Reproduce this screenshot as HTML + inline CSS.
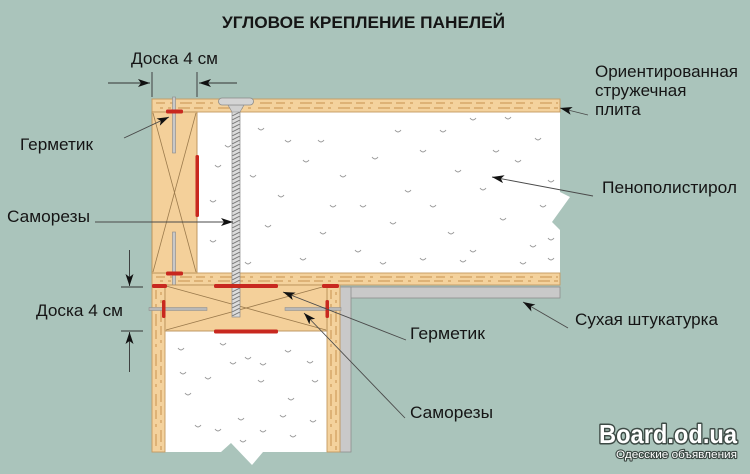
<!DOCTYPE html>
<html><head><meta charset="utf-8"><style>
html,body{margin:0;padding:0;background:#aac4bb;}
svg{display:block;}
text{font-family:"Liberation Sans","DejaVu Sans",sans-serif;fill:#151515;}
</style></head><body>
<svg width="750" height="474" viewBox="0 0 750 474" xmlns="http://www.w3.org/2000/svg">
<defs>
<marker id="ah" markerWidth="13" markerHeight="8" refX="12" refY="4" orient="auto" markerUnits="userSpaceOnUse">
<path d="M0,0 L12,4 L0,8 L3,4 z" fill="#111"/>
</marker>
<pattern id="thr" width="8" height="4" patternUnits="userSpaceOnUse">
<path d="M-1,4.5 L9,-0.5" stroke="#7a7a7a" stroke-width="1"/>
</pattern>
</defs>
<rect width="750" height="474" fill="#aac4bb"/>

<!-- title -->
<text x="222" y="28" font-size="17" font-weight="bold" textLength="283" lengthAdjust="spacingAndGlyphs">УГЛОВОЕ КРЕПЛЕНИЕ ПАНЕЛЕЙ</text>

<!-- drywall -->
<rect x="340" y="287" width="220" height="11" fill="#c9c9c9" stroke="#8e8e8e" stroke-width="0.8"/>
<rect x="340" y="287" width="11" height="165" fill="#c9c9c9" stroke="#8e8e8e" stroke-width="0.8"/>

<!-- top foam -->
<path d="M197,112 L560,112 L560,192 L570,197 L552,222 L560,230 L560,273 L197,273 Z" fill="#ffffff"/>
<!-- bottom foam -->
<path d="M165,331 L327,331 L327,452 L263,452 L252,465 L231,443 L221,452 L165,452 Z" fill="#ffffff"/>

<!-- foam dots -->
<g fill="none" stroke="#9a9a9a" stroke-width="0.9">
<path d="M258,128 q3,4 6,0 M318,140 q3,4 6,0 M395,130 q3,4 6,0 M470,118 q3,4 6,0 M505,117 q3,4 6,0 M372,157 q3,4 6,0 M303,160 q3,4 6,0 M420,150 q3,4 6,0 M493,150 q3,4 6,0 M535,138 q3,4 6,0 M215,165 q3,4 6,0 M250,175 q3,4 6,0 M340,175 q3,4 6,0 M405,190 q3,4 6,0 M455,170 q3,4 6,0 M515,160 q3,4 6,0 M548,180 q3,4 6,0 M210,200 q3,4 6,0 M278,195 q3,4 6,0 M360,205 q3,4 6,0 M430,205 q3,4 6,0 M480,188 q3,4 6,0 M540,205 q3,4 6,0 M210,240 q3,4 6,0 M265,225 q3,4 6,0 M320,232 q3,4 6,0 M390,222 q3,4 6,0 M448,232 q3,4 6,0 M500,218 q3,4 6,0 M548,238 q3,4 6,0 M245,262 q3,4 6,0 M300,258 q3,4 6,0 M355,250 q3,4 6,0 M420,258 q3,4 6,0 M470,250 q3,4 6,0 M520,262 q3,4 6,0 M548,258 q3,4 6,0 M285,140 q3,4 6,0 M440,130 q3,4 6,0 M225,145 q3,4 6,0 M330,205 q3,4 6,0 M460,260 q3,4 6,0 M380,262 q3,4 6,0 M530,245 q3,4 6,0"/>
<path d="M178,348 q3,4 6,0 M220,343 q3,4 6,0 M245,357 q3,4 6,0 M260,363 q3,4 6,0 M180,372 q3,4 6,0 M205,377 q3,4 6,0 M258,380 q3,4 6,0 M230,362 q3,4 6,0 M185,393 q3,4 6,0 M285,350 q3,4 6,0 M307,361 q3,4 6,0 M312,380 q3,4 6,0 M288,398 q3,4 6,0 M280,415 q3,4 6,0 M238,418 q3,4 6,0 M195,425 q3,4 6,0 M215,429 q3,4 6,0 M260,430 q3,4 6,0 M290,435 q3,4 6,0 M240,440 q3,4 6,0 M310,420 q3,4 6,0"/>
</g>

<!-- top OSB -->
<rect x="152" y="99" width="408" height="13" fill="#f4d29d" stroke="#c49a60" stroke-width="0.9"/>
<g stroke="#c7924f" stroke-width="1" stroke-dasharray="9 5 3 7 12 4">
<line x1="156" y1="103" x2="558" y2="103"/>
<line x1="160" y1="108" x2="558" y2="108" stroke-dashoffset="6"/>
</g>
<!-- bottom OSB of top panel -->
<rect x="152" y="273" width="408" height="12" fill="#f4d29d" stroke="#c49a60" stroke-width="0.9"/>
<g stroke="#c7924f" stroke-width="1" stroke-dasharray="9 5 3 7 12 4">
<line x1="156" y1="277" x2="558" y2="277"/>
<line x1="160" y1="281" x2="558" y2="281" stroke-dashoffset="6"/>
</g>

<!-- left vertical board -->
<rect x="152" y="112" width="45" height="161" fill="#f4d09a" stroke="#b98f57" stroke-width="0.9"/>
<g stroke="#9b7a4c" stroke-width="0.8">
<line x1="153" y1="113" x2="196" y2="272"/>
<line x1="196" y1="113" x2="153" y2="272"/>
</g>
<!-- nails in left board -->
<rect x="172.5" y="97" width="3" height="56" fill="#c8c8c8" stroke="#888" stroke-width="0.6"/>
<rect x="172.5" y="232" width="3" height="54" fill="#c8c8c8" stroke="#888" stroke-width="0.6"/>

<!-- horizontal board + vertical OSBs of lower panel -->
<rect x="152" y="285" width="13" height="167" fill="#f4d29d" stroke="#c49a60" stroke-width="0.9"/>
<rect x="327" y="285" width="13" height="167" fill="#f4d29d" stroke="#c49a60" stroke-width="0.9"/>
<g stroke="#c7924f" stroke-width="1" stroke-dasharray="9 5 3 7 12 4">
<line x1="156" y1="290" x2="156" y2="450"/>
<line x1="161" y1="292" x2="161" y2="450" stroke-dashoffset="6"/>
<line x1="331" y1="290" x2="331" y2="450"/>
<line x1="336" y1="292" x2="336" y2="450" stroke-dashoffset="6"/>
</g>
<rect x="165" y="285" width="162" height="46" fill="#f4d09a" stroke="#b98f57" stroke-width="0.9"/>
<g stroke="#9b7a4c" stroke-width="0.8">
<line x1="166" y1="330" x2="326" y2="286"/>
<line x1="166" y1="286" x2="326" y2="330"/>
</g>

<!-- horizontal nails -->
<rect x="149" y="307.5" width="58" height="3" fill="#b8b8b8" stroke="#888" stroke-width="0.5"/>
<rect x="285" y="307.5" width="56" height="3" fill="#b8b8b8" stroke="#888" stroke-width="0.5"/>

<!-- big screw -->
<rect x="232" y="104" width="8" height="213" fill="#dcdcdc" stroke="#888" stroke-width="0.7"/>
<rect x="232" y="108" width="8" height="208" fill="url(#thr)"/>
<path d="M228,105 L244,105 L240,112 L232,112 Z" fill="#d0d0d0" stroke="#8a8a8a" stroke-width="0.6"/>
<rect x="218.5" y="98" width="35" height="7" rx="3.5" fill="#d4d4d4" stroke="#8a8a8a" stroke-width="0.8"/>

<!-- red sealant -->
<g fill="#c8281f">
<rect x="166" y="109.5" width="17" height="4" rx="1.5"/>
<rect x="195.5" y="155" width="3.5" height="62" rx="1.5"/>
<rect x="166" y="271.5" width="17" height="4" rx="1.5"/>
<rect x="152" y="284" width="15" height="4" rx="1.5"/>
<rect x="214" y="284" width="64" height="4" rx="1.5"/>
<rect x="322" y="284" width="17" height="4" rx="1.5"/>
<rect x="214" y="329.5" width="64" height="4" rx="1.5"/>
<rect x="162" y="300" width="3.5" height="18" rx="1.5"/>
<rect x="325.5" y="300" width="3.5" height="18" rx="1.5"/>
</g>

<!-- dimension top -->
<g stroke="#333" stroke-width="0.9" fill="none">
<line x1="152" y1="72" x2="152" y2="97"/>
<line x1="197" y1="72" x2="197" y2="97"/>
<line x1="108" y1="83" x2="150" y2="83" marker-end="url(#ah)"/>
<line x1="237" y1="83" x2="199" y2="83" marker-end="url(#ah)"/>
<!-- dimension left -->
<line x1="121" y1="287" x2="143" y2="287"/>
<line x1="121" y1="331" x2="143" y2="331"/>
<line x1="129.5" y1="250" x2="129.5" y2="286" marker-end="url(#ah)"/>
<line x1="129.5" y1="372" x2="129.5" y2="332" marker-end="url(#ah)"/>
</g>

<!-- leader lines -->
<g stroke="#4a4a4a" stroke-width="0.9" fill="none">
<line x1="124" y1="138" x2="169" y2="117" marker-end="url(#ah)"/>
<line x1="95" y1="222" x2="233" y2="222" marker-end="url(#ah)"/>
<line x1="588" y1="115" x2="560" y2="108" marker-end="url(#ah)"/>
<line x1="593" y1="196" x2="492" y2="177" marker-end="url(#ah)"/>
<line x1="568" y1="328" x2="523" y2="302" marker-end="url(#ah)"/>
<line x1="406" y1="340" x2="283" y2="292" marker-end="url(#ah)"/>
<line x1="405" y1="418" x2="304" y2="313" marker-end="url(#ah)"/>
</g>

<!-- labels -->
<g font-size="17">
<text x="131" y="64" textLength="87" lengthAdjust="spacingAndGlyphs">Доска 4 см</text>
<text x="20" y="150" textLength="73" lengthAdjust="spacingAndGlyphs">Герметик</text>
<text x="7" y="222" textLength="83" lengthAdjust="spacingAndGlyphs">Саморезы</text>
<text x="36" y="316" textLength="87" lengthAdjust="spacingAndGlyphs">Доска 4 см</text>
<text x="595" y="77" textLength="143" lengthAdjust="spacingAndGlyphs">Ориентированная</text>
<text x="595" y="96">стружечная</text>
<text x="595" y="115">плита</text>
<text x="602" y="193" textLength="135" lengthAdjust="spacingAndGlyphs">Пенополистирол</text>
<text x="575" y="325" textLength="143" lengthAdjust="spacingAndGlyphs">Сухая штукатурка</text>
<text x="410" y="339" textLength="75" lengthAdjust="spacingAndGlyphs">Герметик</text>
<text x="410" y="418" textLength="83" lengthAdjust="spacingAndGlyphs">Саморезы</text>
</g>

<!-- watermark -->
<text x="599" y="443" font-size="26" font-weight="bold" textLength="138" lengthAdjust="spacingAndGlyphs" style="fill:#ffffff;stroke:#3d4a45;stroke-width:3;paint-order:stroke;stroke-linejoin:round">Board.od.ua</text>
<text x="616" y="458" font-size="11" textLength="121" lengthAdjust="spacingAndGlyphs" style="fill:#ffffff;stroke:#3d4a45;stroke-width:2.2;paint-order:stroke;stroke-linejoin:round">Одесские объявления</text>
</svg>
</body></html>
